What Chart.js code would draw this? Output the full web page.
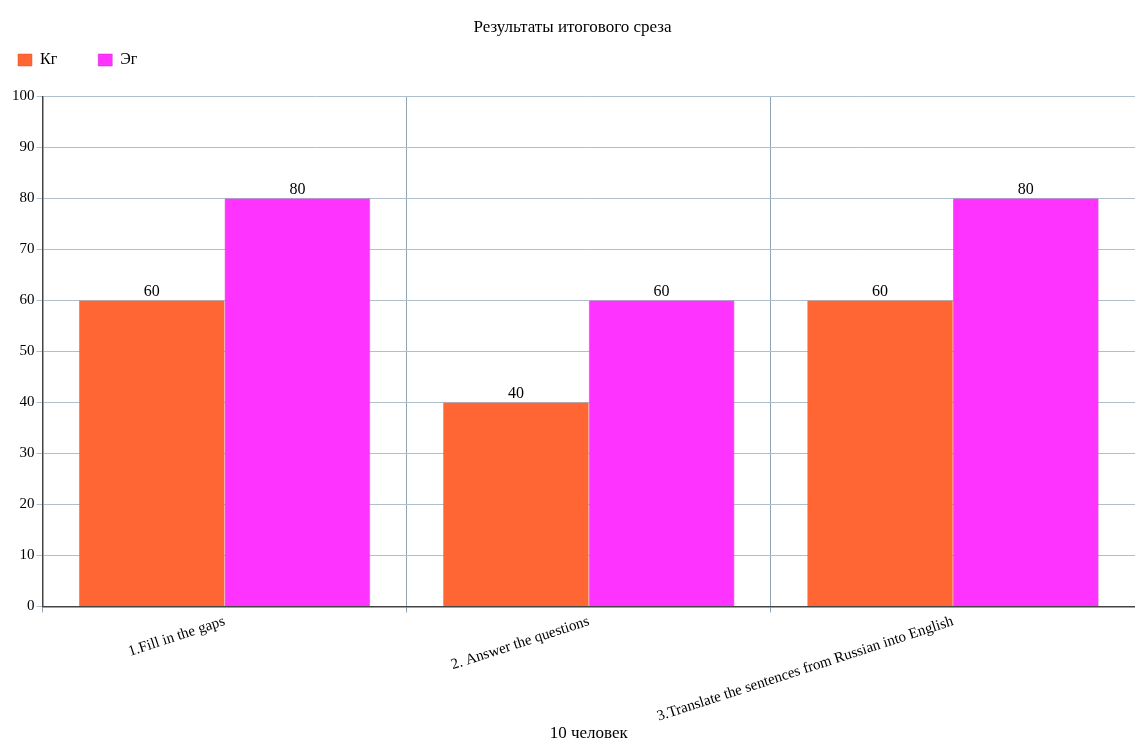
<!DOCTYPE html>
<html><head><meta charset="utf-8">
<script src="https://cdn.jsdelivr.net/npm/chart.js@4.4.0/dist/chart.umd.min.js"></script>
<style>html,body{margin:0;padding:0;background:#fff}canvas{display:block}</style>
</head><body>
<canvas id="c" width="1135" height="740"></canvas>
<script>
const categories = ["1.Fill in the gaps", "2. Answer the questions", "3.Translate the sentences from Russian into English"];
const seriesNames = ["Кг", "Эг"];
const kgValues = [60, 40, 60];
const egValues = [80, 60, 80];
const yTicks = [0, 10, 20, 30, 40, 50, 60, 70, 80, 90, 100];

const FONT = "'Liberation Serif', 'Times New Roman', serif";

const valueLabels = {
  id: 'valueLabels',
  afterDatasetsDraw(chart) {
    const ctx = chart.ctx;
    ctx.save();
    ctx.font = "16px " + FONT;
    ctx.fillStyle = "#000";
    ctx.textAlign = "center";
    ctx.textBaseline = "bottom";
    chart.data.datasets.forEach((ds, i) => {
      chart.getDatasetMeta(i).data.forEach((bar, j) => {
        ctx.fillText(String(ds.data[j]), bar.x, bar.y - 1);
      });
    });
    ctx.restore();
  }
};

const legendShift = {
  id: 'legendShift',
  afterLayout(chart) {
    const lg = chart.legend;
    const pad = lg.options.labels.padding;
    lg.left = 18 - pad;
    lg.top = 52 - pad;
  }
};

new Chart(document.getElementById('c'), {
  type: 'bar',
  data: {
    labels: categories,
    datasets: [
      { label: seriesNames[0], data: kgValues, backgroundColor: '#FF6633', borderColor: '#E0552A', borderWidth: 0.5 },
      { label: seriesNames[1], data: egValues, backgroundColor: '#FF33FF', borderColor: '#D020D0', borderWidth: 0.5 }
    ]
  },
  options: {
    responsive: false,
    animation: false,
    layout: { padding: { left: 10, right: 0, top: 13, bottom: 0 } },
    datasets: { bar: { categoryPercentage: 0.8, barPercentage: 1.0 } },
    plugins: {
      title: { display: true, text: 'Результаты итогового среза', color: '#000', font: { family: FONT, size: 17, weight: 'normal' }, padding: { top: 4, bottom: -8 } },
      legend: { position: 'top', align: 'start',
        labels: { color: '#000', boxWidth: 14, boxHeight: 12, padding: 41, font: { family: FONT, size: 16 } } },
      tooltip: { enabled: false }
    },
    scales: {
      x: {
        grid: { display: true, offset: true, color: '#8FA3B3', lineWidth: 1, tickLength: 6, drawTicks: true },
        border: { display: true, color: '#444', width: 1.5 },
        ticks: { color: '#000', font: { family: FONT, size: 15 }, minRotation: 18, maxRotation: 18, padding: 0 },
        title: { display: true, text: '10 человек', color: '#000', font: { family: FONT, size: 17 }, padding: { top: -2, bottom: -4 } }
      },
      y: {
        min: 0, max: 100,
        afterBuildTicks(axis) { axis.ticks = yTicks.map(v => ({ value: v })); },
        grid: { color: '#B0BFCC', lineWidth: 1, tickLength: 6 },
        border: { display: true, color: '#444', width: 1.5 },
        ticks: { color: '#000', font: { family: FONT, size: 15 }, padding: 2 }
      }
    }
  },
  plugins: [valueLabels, legendShift]
});
</script>
</body></html>
